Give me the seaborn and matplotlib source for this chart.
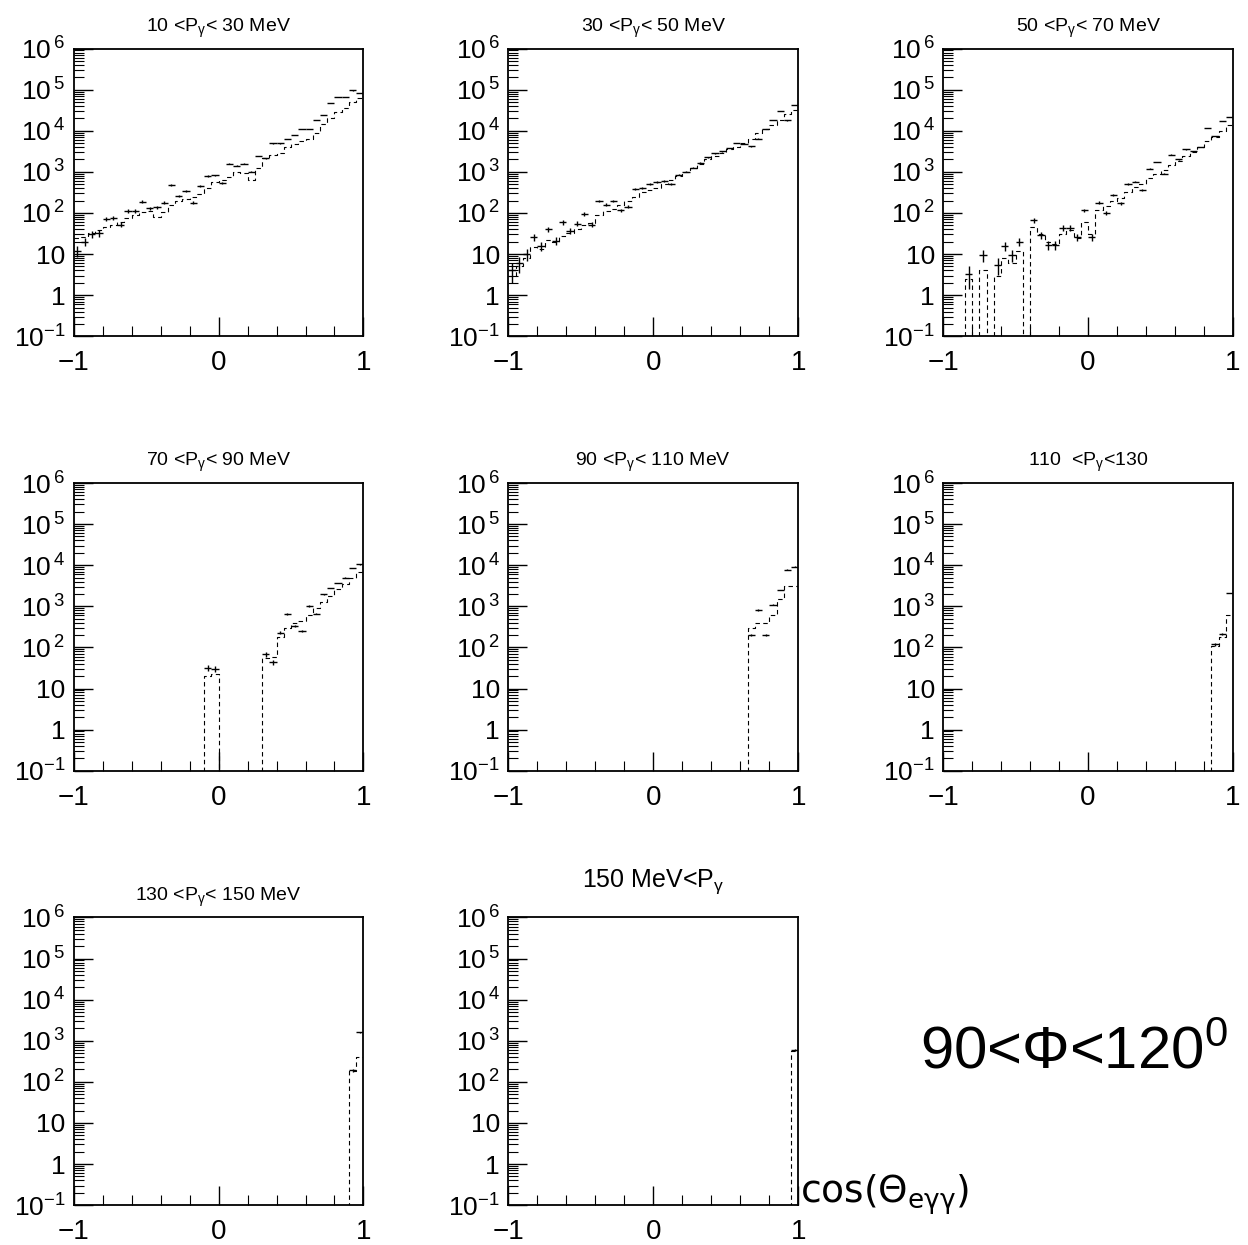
import numpy as np
import pandas as pd
import matplotlib
matplotlib.use("Agg")
import matplotlib.pyplot as plt
import seaborn as sns
from matplotlib.ticker import MultipleLocator, LogLocator, NullFormatter

# cos(theta) binning: 40 bins from -1 to 1
n_bins = 40
edges = np.linspace(-1, 1, n_bins + 1)
centers = 0.5 * (edges[:-1] + edges[1:])

titles = [
    "10 <P$_\\gamma$< 30 MeV",
    "30 <P$_\\gamma$< 50 MeV",
    "50 <P$_\\gamma$< 70 MeV",
    "70 <P$_\\gamma$< 90 MeV",
    "90 <P$_\\gamma$< 110 MeV",
    "110  <P$_\\gamma$<130",
    "130 <P$_\\gamma$< 150 MeV",
    "150 MeV<P$_\\gamma$",
]

# measured counts per bin (points with error bars)
data_10_30 = [12, 20, 30, 32, 71, 76, 52, 112, 112, 190, 132, 138, 178, 480, 257, 347, 178, 457, 794, 832,
              537, 1590, 1410, 1590, 1020, 2450, 2140, 4900, 4900, 6300, 7900, 11000, 11000, 18600, 24500, 46800, 67600, 67600, 95500, 83200]
data_30_50 = [4, 6, 10, 26, 16, 40, 21, 60, 36, 55, 93, 52, 195, 158, 195, 117, 141, 380, 398, 513,
              562, 603, 513, 851, 1000, 1260, 1660, 2240, 2820, 3160, 3800, 5010, 4790, 4170, 6460, 11000, 18200, 30200, 17800, 42700]
data_50_70 = [0, 0, 0, 3.2, 0, 9.5, 0, 5.5, 16, 9.5, 20, 0, 66, 29, 17, 17, 44, 44, 26, 117,
              26, 178, 100, 269, 170, 513, 575, 355, 1200, 1740, 912, 2630, 2000, 3550, 3160, 4070, 11500, 7410, 17400, 21900]
data_70_90 = [0, 0, 0, 0, 0, 0, 0, 0, 0, 0, 0, 0, 0, 0, 0, 0, 0, 0, 32, 30,
              0, 0, 0, 0, 0, 0, 68, 43, 230, 650, 330, 250, 1020, 660, 1950, 2800, 3700, 5000, 8700, 10500]
data_90_110 = [0] * 33 + [200, 810, 200, 1100, 2500, 7800, 9300]
data_110_130 = [0] * 37 + [120, 210, 2100]
data_130_150 = [0] * 38 + [190, 1600]
data_150_up = [0] * 39 + [600]

# simulated counts per bin (dashed histograms)
mc_10_30 = [25, 26, 32, 38, 45, 50, 60, 76, 89, 105, 112, 79, 107, 158, 200, 224, 240, 282, 398, 562,
            631, 759, 1000, 955, 631, 1260, 2140, 2510, 2950, 3980, 4680, 5620, 6310, 8910, 14800, 20000, 28200, 35500, 50100, 63100]
mc_30_50 = [3, 5, 8, 15, 13, 22, 20, 28, 32, 40, 52, 56, 90, 110, 126, 158, 200, 250, 316, 355,
            400, 500, 630, 790, 1000, 1260, 1580, 2000, 2500, 2820, 3550, 4000, 5000, 6300, 8900, 11200, 14100, 17800, 25100, 31600]
mc_50_70 = [0, 0, 0, 2.5, 0, 4, 0, 3, 8, 6, 12, 0, 45, 30, 20, 18, 30, 38, 25, 60,
            30, 120, 150, 200, 230, 320, 420, 500, 700, 900, 1100, 1500, 1800, 2400, 3000, 4000, 5500, 7000, 10000, 14000]
mc_70_90 = [0, 0, 0, 0, 0, 0, 0, 0, 0, 0, 0, 0, 0, 0, 0, 0, 0, 0, 20, 22,
            0, 0, 0, 0, 0, 0, 55, 60, 180, 300, 400, 450, 600, 900, 1300, 1800, 2600, 3500, 5000, 7000]
mc_90_110 = [0] * 33 + [290, 400, 400, 600, 1500, 3200, 3200]
mc_110_130 = [0] * 37 + [110, 180, 600]
mc_130_150 = [0] * 38 + [185, 400]
mc_150_up = [0] * 39 + [550]

data_sets = [data_10_30, data_30_50, data_50_70, data_70_90, data_90_110, data_110_130, data_130_150, data_150_up]
mc_sets = [mc_10_30, mc_30_50, mc_50_70, mc_70_90, mc_90_110, mc_110_130, mc_130_150, mc_150_up]

ytick_vals = [1e-1, 1, 10, 1e2, 1e3, 1e4, 1e5, 1e6]
ytick_labels = ["$10^{-1}$", "1", "10", "$10^{\\,2}$", "$10^{\\,3}$", "$10^{\\,4}$", "$10^{\\,5}$", "$10^{\\,6}$"]

sns.set_style("ticks", {"xtick.direction": "in", "ytick.direction": "in",
                        "axes.edgecolor": "black", "text.color": "black",
                        "xtick.color": "black", "ytick.color": "black"})
plt.rcParams["font.family"] = ["Liberation Sans", "DejaVu Sans"]
plt.rcParams["mathtext.default"] = "regular"

fig, axes = plt.subplots(3, 3, figsize=(12.48, 12.45), dpi=100)
fig.subplots_adjust(left=0.059, right=0.988, bottom=0.032, top=0.961, wspace=0.5, hspace=0.51)
axes = axes.ravel()

for i in range(8):
    ax = axes[i]
    df = pd.DataFrame({"cos": centers,
                       "mc": np.array(mc_sets[i], dtype=float),
                       "data": np.array(data_sets[i], dtype=float)})

    sns.histplot(data=df, x="cos", weights="mc", bins=n_bins, binrange=(-1, 1),
                 element="step", fill=False, color="black",
                 linestyle=(0, (4, 3)), linewidth=0.8, ax=ax)

    pts = df[df["data"] > 0]
    ax.errorbar(pts["cos"], pts["data"], xerr=0.025, yerr=np.sqrt(pts["data"]),
                fmt="none", ecolor="black", elinewidth=1.0, capsize=0)

    ax.set_yscale("log")
    ax.set_xlim(-1, 1)
    ax.set_ylim(1e-1, 1e6)
    ax.set_xlabel("")
    ax.set_ylabel("")

    ax.set_xticks([-1, 0, 1])
    ax.set_xticklabels(["\u22121", "0", "1"], fontsize=20)
    ax.xaxis.set_minor_locator(MultipleLocator(0.2))
    ax.set_yticks(ytick_vals)
    ax.set_yticklabels(ytick_labels, fontsize=19)
    ax.yaxis.set_minor_locator(LogLocator(base=10, subs=np.arange(2, 10), numticks=20))
    ax.yaxis.set_minor_formatter(NullFormatter())
    ax.tick_params(axis="x", which="major", pad=10)
    ax.tick_params(axis="y", which="major", pad=6)
    ax.tick_params(which="major", direction="in", length=14, width=1.0, top=False, right=False)
    ax.tick_params(which="minor", direction="in", length=7, width=0.8, top=False, right=False)
    for sp in ax.spines.values():
        sp.set_linewidth(1.3)

    if i == 7:
        ax.set_title(titles[i], fontsize=18, pad=22)
    else:
        ax.set_title(titles[i], fontsize=14, pad=12)

axes[8].axis("off")

fig.text(0.737, 0.142, "90<\u03a6<120$^{0}$", fontsize=43, ha="left", va="baseline")
fig.text(0.641, 0.034, "cos(\u0398$_{e\\gamma\\gamma}$)", fontsize=27, ha="left", va="baseline",
         family=["DejaVu Sans"])

fig.savefig("out.png", dpi=100)
